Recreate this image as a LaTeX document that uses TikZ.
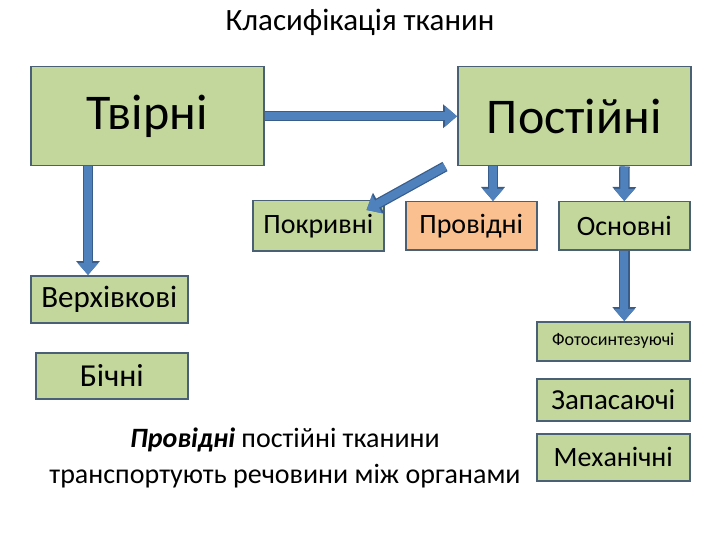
\documentclass[tikz,border=0pt]{standalone}
\usepackage{fontspec}
\setmainfont{Carlito}
\usetikzlibrary{arrows.meta,positioning,calc}
\definecolor{gfill}{HTML}{C3D69B}
\definecolor{bord}{HTML}{4A6077}
\definecolor{ofill}{HTML}{FAC090}
\definecolor{ablue}{HTML}{4F81BD}
\definecolor{adark}{HTML}{385D8A}
\tikzset{
 box/.style={draw=bord,line width=1.5pt,fill=gfill,inner sep=0pt,anchor=north west},
 barrow/.style={draw=ablue,line width=8pt,-{Triangle[length=12pt,width=20pt]},
   preaction={draw=adark,line width=10.5pt,-{Triangle[length=14pt,width=23pt]}}},
}
\begin{document}
\begin{tikzpicture}[x=1pt,y=-1pt]
\useasboundingbox (0,0) rectangle (720,540);
\node (title) at (360,22) {\fontsize{31}{36}\selectfont Класифікація тканин};
\node[box,minimum width=233pt,minimum height=99pt] (tv) at (30,66) {\fontsize{50}{56}\selectfont Твірні};
\node[box,minimum width=233pt,minimum height=99pt] (po) at (457,66) {\fontsize{50}{56}\selectfont Постійні};
\node[box,minimum width=131pt,minimum height=50pt] (pk) at (252,200) {\fontsize{28}{32}\selectfont Покривні};
\node[box,fill=ofill,minimum width=131pt,minimum height=48pt] (pr) at (405,201) {\fontsize{28}{32}\selectfont Провідні};
\node[box,minimum width=131pt,minimum height=48pt] (os) at (558,201) {\fontsize{28}{32}\selectfont Основні};
\node[box,minimum width=157pt,minimum height=47pt] (ve) at (30,275) {\fontsize{31}{36}\selectfont Верхівкові};
\node[box,minimum width=153pt,minimum height=39pt] (fo) at (536,321) {\fontsize{18}{20}\selectfont Фотосинтезуючі};
\node[box,minimum width=152pt,minimum height=46pt] (bi) at (35,352) {\fontsize{32}{36}\selectfont Бічні};
\node[box,minimum width=153pt,minimum height=42pt] (za) at (536,378) {\fontsize{29}{34}\selectfont Запасаючі};
\node[box,minimum width=153pt,minimum height=47pt] (me) at (536,433) {\fontsize{28}{32}\selectfont Механічні};
\node[align=center,font=\fontsize{28}{36}\selectfont] (txt) at (285,458) {\textit{\textbf{Провідні}} постійні тканини\\транспортують речовини між органами};
\draw[barrow] (tv.east) -- (po.west);
\draw[barrow] ([xshift=58pt]tv.south west) -- ([xshift=58pt]ve.north west);
\draw[barrow] ([xshift=-12pt]po.south west) -- ([xshift=-18pt,yshift=-10pt]pk.north east);
\draw[barrow] ([xshift=36pt]po.south west) -- ([xshift=88pt]pr.north west);
\draw[barrow] ([xshift=-67pt]po.south east) -- (os.north);
\draw[barrow] (os.south) -- (os.south |- fo.north);
\end{tikzpicture}
\end{document}
